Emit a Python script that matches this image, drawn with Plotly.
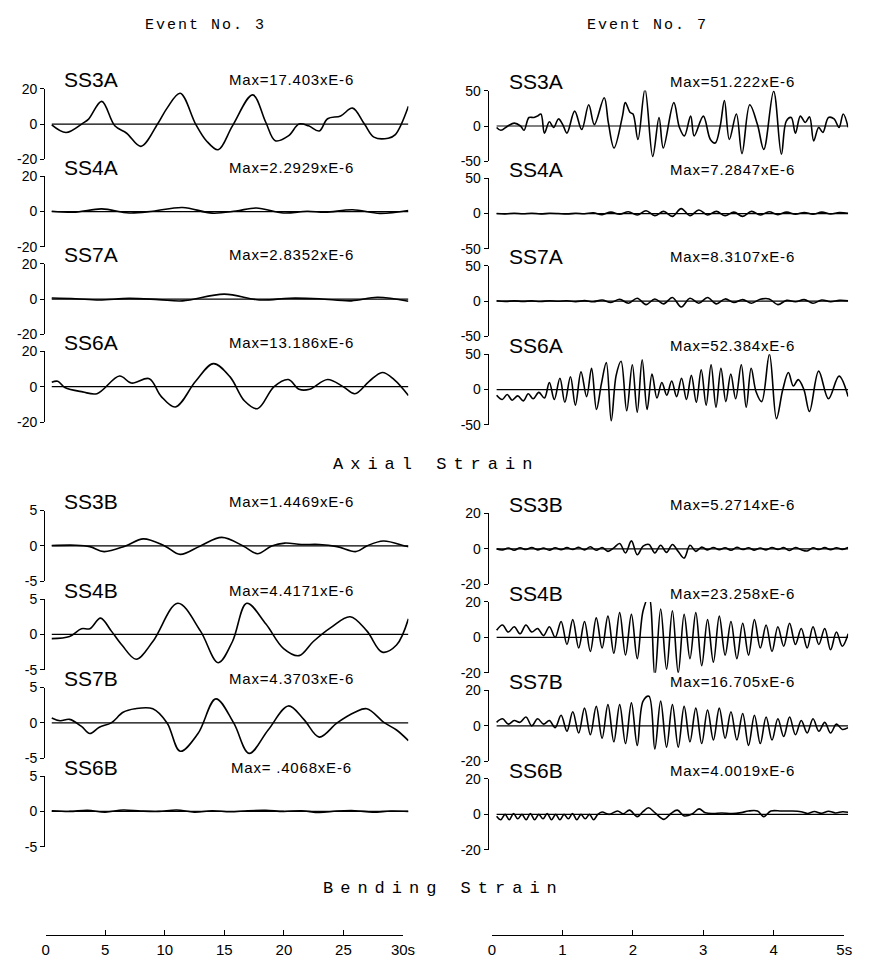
import plotly.graph_objects as go

W, H = 869, 963


def px(x):
    return x / W


def py(y):
    return 1 - y / H


# ---------------- data: Event No. 3 (0-30 s) ----------------
e3_ss3a_t = [0, 1.2, 2.6, 3.1, 4.2, 5.3, 6.3, 7.5, 8.9, 9.7, 10.8, 12.1, 13.0, 14.0, 15.2, 16.9, 18.0, 18.8,
             19.9, 20.8, 21.6, 22.5, 23.2, 24.3, 25.3, 26.3, 27.1, 28.3, 28.9, 30.0]
e3_ss3a_v = [-0.5, -4.8, 0.4, 2.8, 12.8, -1, -5.2, -12.6, 0, 9, 17.4, 0, -9.4, -14.5, -1, 16.5, 1, -9.4,
             -6.7, 0, -1, -3.9, 3, 4.6, 9, 0, -7.4, -8, -6, 10]

e3_ss4a_t = [0, 2, 4.2, 6.5, 8.5, 11, 13.5, 15.5, 17.2, 19.5, 21.5, 23, 25.3, 27.6, 30]
e3_ss4a_v = [0.2, -0.3, 1.5, -0.8, 0.2, 2.3, -0.9, 0.3, 2.0, -0.8, 0.2, -0.4, 1.0, -1.0, 0.6]

e3_ss7a_t = [0, 2, 4, 6.5, 9, 11, 14.5, 17.5, 20, 22.5, 25.2, 27.4, 30]
e3_ss7a_v = [0.6, 0.2, -0.5, 0.4, -0.3, -1.0, 2.8, -0.5, 0.5, 0.2, -1.0, 1.0, -1.2]

e3_ss6a_t = [0, 0.5, 1.1, 2.6, 3.8, 5.7, 6.7, 8.2, 9.2, 10.4, 12.1, 13.6, 15.0, 16.2, 17.3, 18.7, 19.9, 20.8,
             21.7, 23.2, 24.5, 25.5, 26.7, 27.8, 28.8, 30.0]
e3_ss6a_v = [2.5, 3, -0.5, -3, -4, 6, 2, 4.5, -5.5, -11.5, 3, 13, 5.5, -8, -12.5, 0, 4, -1.5,
             -1.5, 4, 0, -4, 3, 8, 4, -5]

e3_ss3b_t = [0, 2, 3.2, 4.4, 6.2, 7.7, 9.5, 10.8, 12.5, 14.3, 16.1, 17.3, 18.5, 19.6, 21, 22.5, 24, 25.6,
             26.5, 27.9, 29.7, 30]
e3_ss3b_v = [0.05, 0.1, -0.1, -0.8, 0, 1.0, 0, -1.2, 0, 1.2, 0, -1.1, 0, 0.4, 0.2, 0.2, -0.1, -0.8,
             0, 0.7, 0, -0.1]

e3_ss4b_t = [0, 1.5, 2.5, 3.2, 4.1, 5.0, 5.9, 7.1, 8.5, 10.6, 12.5, 14.0, 15.2, 16.4, 18.0, 19.5, 20.8,
             22.0, 23.5, 25.1, 26.5, 27.8, 29.0, 30]
e3_ss4b_v = [-0.6, -0.3, 0.8, 0.8, 2.3, 0.5, -1.5, -3.5, -1.0, 4.4, 0.5, -4.0, -1.0, 4.4, 1.5, -2.0, -3.0,
             -1.0, 1.0, 2.5, 0.5, -2.5, -1.5, 2.2]

e3_ss7b_t = [0, 0.7, 1.5, 2.5, 3.2, 4.0, 5.0, 6.0, 7.0, 8.5, 9.7, 10.8, 12.3, 13.8, 15.3, 16.6, 18.2, 19.9,
             21.2, 22.5, 24.0, 25.5, 26.5, 28.0, 29.0, 30]
e3_ss7b_v = [0.7, 0.3, 0.5, -0.5, -1.5, -0.6, 0.0, 1.5, 2.0, 2.0, 0.0, -4.0, -1.5, 3.4, 0.0, -4.3, -1.0, 2.4,
             0.5, -2.0, 0.0, 1.5, 2.0, 0.0, -1.0, -2.5]

e3_ss6b_t = [0, 1.5, 3, 4.5, 6, 7.5, 9, 10.5, 12, 13.5, 15, 16.5, 18, 19.5, 21, 22.5, 24, 25.5, 27, 28.5, 30]
e3_ss6b_v = [0.1, 0.0, 0.15, -0.1, 0.2, 0.05, 0.0, 0.2, -0.1, 0.1, -0.05, 0.1, 0.15, 0.0, 0.1, -0.15,
             0.05, 0.1, -0.1, 0.05, 0.0]

# ---------------- data: Event No. 7 (0-5 s) ----------------
e7_ss3a_t = [0, 0.06, 0.16, 0.25, 0.34, 0.39, 0.46, 0.53, 0.58, 0.63, 0.68, 0.75, 0.81, 0.88, 0.94, 1.0,
             1.11, 1.21, 1.31, 1.39, 1.53, 1.59, 1.67, 1.79, 1.83, 1.90, 1.94, 2.01, 2.11, 2.22, 2.31, 2.37,
             2.52, 2.60, 2.67, 2.76, 2.81, 2.94, 3.04, 3.11, 3.18, 3.24, 3.31, 3.41, 3.49, 3.60, 3.71, 3.80,
             3.94, 4.05, 4.12, 4.19, 4.25, 4.32, 4.39, 4.45, 4.51, 4.58, 4.64, 4.72, 4.80, 4.87, 4.93, 5.0]
e7_ss3a_v = [-2, -6, 0, 4, 0, -6, 12, 12, 14, 17, -10, 6, -2, 10, 2, -10,
             21, -5, 30, 2, 40, 4, -31, 14, 33, 19, 17, -19, 52, -43, 12, -31,
             33, -2, -14, 14, -14, 14, -19, -24, 0, 36, -19, 17, -39, 30, 2, -33,
             49, -40, 7, 12, -10, 14, 5, 13, -21, -2, -9, 12, 10, -2, 17, -2]

e7_t41 = [0, 0.125, 0.25, 0.375, 0.5, 0.625, 0.75, 0.875, 1.0, 1.125, 1.25, 1.375, 1.5, 1.625, 1.75, 1.875,
          2.0, 2.125, 2.25, 2.375, 2.5, 2.625, 2.75, 2.875, 3.0, 3.125, 3.25, 3.375, 3.5, 3.625, 3.75, 3.875,
          4.0, 4.125, 4.25, 4.375, 4.5, 4.625, 4.75, 4.875, 5.0]
e7_ss4a_v = [0, -0.5, 0.5, -0.3, 0.4, -0.5, 0.3, 0, -0.6, 0.4, -0.3, 1, -1.5, 2, -1, 2.5, -2, 4, -3, 3,
             -4, 7, -3, 5, -2, 3, -3, 2, -4, 3, -2, 2.5, -1.5, 2, -1, 1.5, -1, 2, -0.5, 1.5, 0.5]
e7_ss7a_v = [0.5, -0.5, 0.3, -0.4, 0.2, -0.6, 0.5, -0.3, 0.4, -0.8, 0.6, -1, 1.5, -2, 2.5, -3, 4, -5, 3,
             -4, 5, -8.3, 4, -3, 5, -4, 3, -2, 2, -3, 2.5, 3, -5, 1, -1, 2, -3, 1.5, -1, 1, 0.5]

e7_ss6a_t = [0, 0.08, 0.15, 0.22, 0.30, 0.38, 0.45, 0.52, 0.60, 0.68, 0.75, 0.82, 0.90, 0.97, 1.05, 1.12,
             1.20, 1.28, 1.35, 1.42, 1.49, 1.56, 1.63, 1.70, 1.77, 1.85, 1.93, 2.00, 2.07, 2.14, 2.21, 2.28,
             2.35, 2.42, 2.49, 2.56, 2.63, 2.70, 2.77, 2.84, 2.91, 2.98, 3.05, 3.12, 3.19, 3.26, 3.33, 3.40,
             3.48, 3.55, 3.62, 3.69, 3.77, 3.88, 3.98, 4.07, 4.15, 4.22, 4.29, 4.37, 4.45, 4.58, 4.72, 4.87, 5.0]
e7_ss6a_v = [-8, -14, -7, -15, -9, -16, -6, -13, -4, -12, 10, -14, 16, -18, 18, -22,
             25, -10, 30, -28, 8, 38, -44, 20, 40, -30, 35, -32, 42, -28, 22, -12,
             10, -8, 12, -10, 16, -14, 20, -18, 28, -22, 35, -25, 30, -17, 22, -13,
             35, -25, 30, -3, -17, 50, -41, 0, 24, 5, 14, 0, -31, 26, -13, 19, -10]

e7_t61 = [0, 0.083, 0.167, 0.25, 0.333, 0.417, 0.5, 0.583, 0.667, 0.75, 0.833, 0.917, 1.0, 1.083, 1.167,
          1.25, 1.333, 1.417, 1.5, 1.583, 1.667, 1.75, 1.833, 1.917, 2.0, 2.083, 2.167, 2.25, 2.333, 2.417,
          2.5, 2.583, 2.667, 2.75, 2.833, 2.917, 3.0, 3.083, 3.167, 3.25, 3.333, 3.417, 3.5, 3.583, 3.667,
          3.75, 3.833, 3.917, 4.0, 4.083, 4.167, 4.25, 4.333, 4.417, 4.5, 4.583, 4.667, 4.75, 4.833, 4.917, 5.0]
e7_ss3b_v = [0, -0.6, 0.5, -0.8, 0.6, -0.4, 0.8, -0.6, 0.4, -0.7, 0.6, -0.5, 0.7, -0.4, 0.9, -0.6, 1.2,
             -0.8, 0.8, -1.4, 0.6, 3, -2.3, 4.5, -3.3, 1.5, 2.5, -2.3, 2, -2, 2.5, -1.5, -5.2, 2, -1.4, 1,
             -0.6, 0.8, -0.5, 0.6, -0.8, 0.9, -0.4, 0.6, -0.7, 0.5, -0.6, 0.8, -0.4, 0.7, -0.9, 0.8, -0.5,
             -1.2, 0.6, -0.4, 0.7, -0.5, 0.6, -0.3, 0.8]
e7_ss4b_v = [4, 7, 3, 6, 2, 7, 3, 5, 1, 6, 0, 9, -4, 10, -6, 9, -8, 11, -6, 12, -9, 14, -10, 13, -12,
             15, 23, -22, 16, -18, 15, -20, 13, -12, 14, -16, 10, -14, 12, -10, 9, -12, 8, -10, 10, -6,
             7, -8, 6, -5, 8, -4, 5, -6, 6, -4, 5, -7, 3, -5, 2]
e7_ss7b_v = [2, 4, 1, 3, 2, 5, 0, 4, 1, 3, -1, 6, -3, 8, -4, 10, -5, 11, -7, 12, -9, 12, -10, 13, -11,
             14, 16.7, -13, 14, -12, 12, -12, 11, -9, 10, -10, 9, -8, 10, -7, 8, -8, 7, -11, 6, -10, 5,
             -8, 4, -6, 5, -5, 3, -4, 4, -3, 2, -4, 1, -2, -1]

e7_ss6b_t = [0, 0.06, 0.12, 0.18, 0.24, 0.30, 0.36, 0.42, 0.48, 0.54, 0.60, 0.66, 0.72, 0.78, 0.84, 0.90,
             0.96, 1.02, 1.08, 1.14, 1.20, 1.26, 1.32, 1.38, 1.44, 1.50, 1.60, 1.72, 1.80, 1.89, 2.00, 2.08,
             2.16, 2.25, 2.38, 2.48, 2.57, 2.67, 2.78, 2.88, 2.97, 3.08, 3.20, 3.35, 3.48, 3.58, 3.71, 3.80,
             3.90, 4.05, 4.20, 4.33, 4.42, 4.52, 4.62, 4.72, 4.82, 4.92, 5.0]
e7_ss6b_v = [-1, -3, 0, -3, 0.5, -2.5, 0, -3, 0.5, -3, 0, -2.5, 0.5, -3, 0, -3, 0, -2.5, 0.5, -3, 0,
             -2.5, 0, -3, 0, 1.3, 0, 1.9, 0.3, 2.4, -1.3, 1.5, 3.7, 1, -2.8, 0.5, 2.4, -0.9, 0.2, 3.1,
             0.9, 0.5, 0.8, 0.4, 1, 1.9, 1.9, -1.3, 1.9, 1.9, 1.9, 1.5, 0.5, 1.6, 0.6, 1.8, 0.8, 1.5, 1.2]

zero_e3_t = [0, 30]
zero_e7_t = [0, 5]
zero_v = [0, 0]

labels_top = ["SS3A", "SS4A", "SS7A", "SS6A"]
labels_bot = ["SS3B", "SS4B", "SS7B", "SS6B"]
max_e3_top = ["Max=17.403xE-6", "Max=2.2929xE-6", "Max=2.8352xE-6", "Max=13.186xE-6"]
max_e7_top = ["Max=51.222xE-6", "Max=7.2847xE-6", "Max=8.3107xE-6", "Max=52.384xE-6"]
max_e3_bot = ["Max=1.4469xE-6", "Max=4.4171xE-6", "Max=4.3703xE-6", "Max= .4068xE-6"]
max_e7_bot = ["Max=5.2714xE-6", "Max=23.258xE-6", "Max=16.705xE-6", "Max=4.0019xE-6"]
scale_e3_ticks = [0, 5, 10, 15, 20, 25, 30]
scale_e3_text = ["0", "5", "10", "15", "20", "25", "30s"]
scale_e7_ticks = [0, 1, 2, 3, 4, 5]
scale_e7_text = ["0", "1", "2", "3", "4", "5s"]

# ---------------- layout geometry ----------------
HALF = 36
panels = [
    # col, zero y (px), half range, label, max text, t, v
    ("L", 118, 20, labels_top[0], max_e3_top[0], e3_ss3a_t, e3_ss3a_v),
    ("L", 207, 20, labels_top[1], max_e3_top[1], e3_ss4a_t, e3_ss4a_v),
    ("L", 296, 20, labels_top[2], max_e3_top[2], e3_ss7a_t, e3_ss7a_v),
    ("L", 385, 20, labels_top[3], max_e3_top[3], e3_ss6a_t, e3_ss6a_v),
    ("R", 120, 50, labels_top[0], max_e7_top[0], e7_ss3a_t, e7_ss3a_v),
    ("R", 209, 50, labels_top[1], max_e7_top[1], e7_t41, e7_ss4a_v),
    ("R", 298, 50, labels_top[2], max_e7_top[2], e7_t41, e7_ss7a_v),
    ("R", 388, 50, labels_top[3], max_e7_top[3], e7_ss6a_t, e7_ss6a_v),
    ("L", 547, 5, labels_bot[0], max_e3_bot[0], e3_ss3b_t, e3_ss3b_v),
    ("L", 637, 5, labels_bot[1], max_e3_bot[1], e3_ss4b_t, e3_ss4b_v),
    ("L", 727, 5, labels_bot[2], max_e3_bot[2], e3_ss7b_t, e3_ss7b_v),
    ("L", 817, 5, labels_bot[3], max_e3_bot[3], e3_ss6b_t, e3_ss6b_v),
    ("R", 550, 20, labels_bot[0], max_e7_bot[0], e7_t61, e7_ss3b_v),
    ("R", 640, 20, labels_bot[1], max_e7_bot[1], e7_t61, e7_ss4b_v),
    ("R", 730, 20, labels_bot[2], max_e7_bot[2], e7_t61, e7_ss7b_v),
    ("R", 820, 20, labels_bot[3], max_e7_bot[3], e7_ss6b_t, e7_ss6b_v),
]

TICKFONT = dict(family="Liberation Sans", size=14, color="black")
fig = go.Figure()
layout = dict(
    width=W, height=H, margin=dict(l=0, r=0, t=0, b=0),
    paper_bgcolor="white", plot_bgcolor="rgba(0,0,0,0)", showlegend=False,
    xaxis=dict(domain=[px(42), px(412)], range=[-0.55, 30], visible=False, fixedrange=True),
    xaxis2=dict(domain=[px(494), px(860)], range=[-0.11, 5], visible=False, fixedrange=True),
)
annotations = []

for i, (col, z, R, lab, mx, t, v) in enumerate(panels):
    yname = "y" if i == 0 else f"y{i + 1}"
    ykey = "yaxis" if i == 0 else f"yaxis{i + 1}"
    xname = "x" if col == "L" else "x2"
    layout[ykey] = dict(
        domain=[py(z + HALF), py(z - HALF)], range=[-R, R], anchor=xname,
        showline=True, linecolor="black", linewidth=1.4, mirror=False,
        ticks="outside", ticklen=4, tickwidth=1.3, tickcolor="black",
        tickvals=[-R, 0, R], ticktext=[f"-{R}", "0", f"{R}"],
        tickfont=TICKFONT, showgrid=False, zeroline=False, fixedrange=True,
    )
    zt = zero_e3_t if col == "L" else zero_e7_t
    fig.add_trace(go.Scatter(x=zt, y=zero_v, xaxis=xname, yaxis=yname, mode="lines",
                             line=dict(color="black", width=1.2), hoverinfo="skip"))
    fig.add_trace(go.Scatter(x=t, y=v, xaxis=xname, yaxis=yname, mode="lines",
                             line=dict(color="black", width=1.6, shape="spline", smoothing=1.0),
                             hoverinfo="skip"))
    lx = 59 if col == "L" else 512
    mxc = 292 if col == "L" else 742
    annotations.append(dict(x=px(lx), y=py(z - 45), xref="paper", yref="paper", text=lab,
                            showarrow=False, xanchor="left", yanchor="middle",
                            font=dict(family="Liberation Sans", size=21, color="black")))
    annotations.append(dict(x=px(mxc + 0.4), y=py(z - 45), xref="paper", yref="paper",
                            text=f'<span style="letter-spacing:0.8px">{mx}</span>',
                            showarrow=False, xanchor="center", yanchor="middle",
                            font=dict(family="Liberation Sans", size=15, color="black")))

# time scale bars
layout["yaxis17"] = dict(domain=[py(943), py(930)], range=[0, 1], visible=False, fixedrange=True)
layout["xaxis3"] = dict(domain=[px(42.5), px(406.5)], range=[0, 30], anchor="y17", side="bottom",
                        showline=True, linecolor="black", linewidth=1.4, ticks="inside", ticklen=5,
                        tickwidth=1.3, tickcolor="black", tickvals=scale_e3_ticks, ticktext=scale_e3_text,
                        tickfont=dict(family="Liberation Sans", size=15, color="black"),
                        showgrid=False, zeroline=False, fixedrange=True)
layout["xaxis4"] = dict(domain=[px(497), px(856)], range=[0, 5], anchor="y17", side="bottom",
                        showline=True, linecolor="black", linewidth=1.4, ticks="inside", ticklen=5,
                        tickwidth=1.3, tickcolor="black", tickvals=scale_e7_ticks, ticktext=scale_e7_text,
                        tickfont=dict(family="Liberation Sans", size=15, color="black"),
                        showgrid=False, zeroline=False, fixedrange=True)
fig.add_trace(go.Scatter(x=zero_e3_t, y=zero_v, xaxis="x3", yaxis="y17", mode="lines",
                         line=dict(color="rgba(0,0,0,0)", width=0), hoverinfo="skip"))
fig.add_trace(go.Scatter(x=zero_e7_t, y=zero_v, xaxis="x4", yaxis="y17", mode="lines",
                         line=dict(color="rgba(0,0,0,0)", width=0), hoverinfo="skip"))

for txt, x, y, sz, sp in [("Event No. 3", 204, 18, 15, 2), ("Event No. 7", 655, 18, 15, 2),
                          ("Axial Strain", 437, 464, 17, 7), ("Bending Strain", 444, 895, 17, 7)]:
    annotations.append(dict(x=px(x + sp / 2), y=py(y), xref="paper", yref="paper",
                            text=f'<span style="letter-spacing:{sp}px">{txt}</span>',
                            showarrow=False, xanchor="center", yanchor="middle",
                            font=dict(family="Liberation Mono", size=sz, color="black")))

layout["annotations"] = annotations
fig.update_layout(**layout)
fig.write_html("out.html", post_script="document.body.style.margin='0';document.body.style.padding='0';")
